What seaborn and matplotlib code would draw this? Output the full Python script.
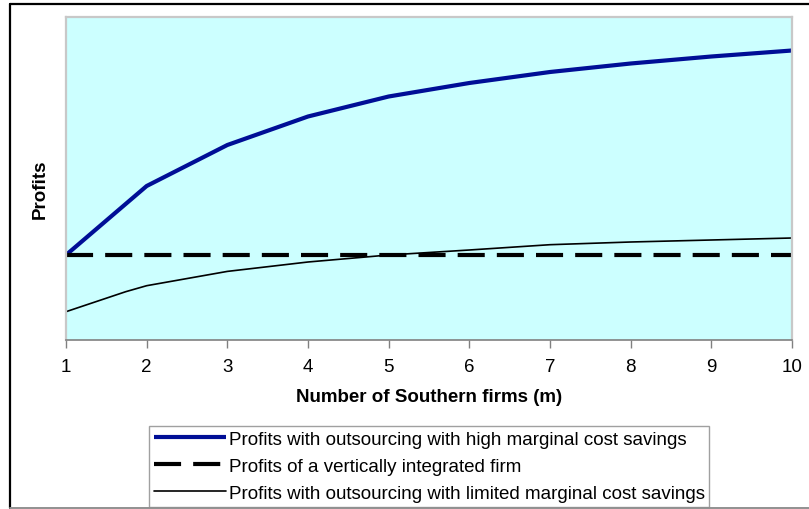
import matplotlib
matplotlib.use("Agg")
import matplotlib.pyplot as plt
from matplotlib.lines import Line2D
import seaborn as sns

# Number of Southern firms
firms = [1, 2, 3, 4, 5, 6, 7, 8, 9, 10]
# the limited-savings curve also has a point between 1 and 2 firms
firms_limited = [1, 1.74, 2, 3, 4, 5, 6, 7, 8, 9, 10]

profits_high = [0.85, 1.54, 1.95, 2.235, 2.435, 2.57, 2.68, 2.765, 2.835, 2.895]
profits_integrated = [0.85, 0.85, 0.85, 0.85, 0.85, 0.85, 0.85, 0.85, 0.85, 0.85]
profits_limited = [0.283, 0.483, 0.543, 0.686, 0.78, 0.85, 0.90, 0.953, 0.98, 1.00, 1.02]

labels = [
    "Profits with outsourcing with high marginal cost savings",
    "Profits of a vertically integrated firm",
    "Profits with outsourcing with limited marginal cost savings",
]

sns.set_style("white")
plt.rcParams["font.family"] = ["Liberation Sans", "DejaVu Sans"]
plt.rcParams["text.color"] = "black"
plt.rcParams["axes.labelcolor"] = "black"
plt.rcParams["xtick.color"] = "black"

FS = 13.5

fig = plt.figure(figsize=(8.09, 5.10), dpi=100)
W, H = 809, 510
ax = fig.add_axes([66 / W, 1 - 341 / H, 726 / W, 323 / H])
ax.set_facecolor("#CCFFFF")

sns.lineplot(x=firms, y=profits_high, ax=ax, color="#000E96", lw=3.0,
             label=labels[0], solid_capstyle="butt")
sns.lineplot(x=firms, y=profits_integrated, ax=ax, color="black", lw=3.0,
             label=labels[1], linestyle=(0, (6.5, 2.9)))
sns.lineplot(x=firms_limited, y=profits_limited, ax=ax, color="black", lw=1.2,
             label=labels[2])

ax.set_xlim(1, 10)
ax.set_ylim(0, 3.23)
ax.set_xticks(firms)
ax.set_xticklabels([str(v) for v in firms])
ax.set_yticks([])

for side in ["top", "left", "right"]:
    ax.spines[side].set_color("#C8C8C8")
    ax.spines[side].set_linewidth(1.6)
ax.spines["bottom"].set_color("#808080")
ax.spines["bottom"].set_linewidth(1.2)
ax.tick_params(axis="x", direction="out", length=6, width=1, color="#808080",
               labelcolor="black", pad=7, labelsize=FS, bottom=True)

ax.set_xlabel("Number of Southern firms (m)", fontsize=FS, fontweight="bold",
              labelpad=9, color="black")
ax.set_ylabel("Profits", fontsize=FS, fontweight="bold", color="black")
ax.yaxis.set_label_coords(-0.0235, 0.47)

leg = ax.legend(loc="upper left", bbox_to_anchor=(149 / W, 1 - 427 / H),
                bbox_transform=fig.transFigure, borderaxespad=0, frameon=True,
                fancybox=False, edgecolor="#A0A0A0", fontsize=FS,
                handlelength=3.85, handletextpad=0.15, labelspacing=0.53,
                borderpad=0.25)
leg.get_frame().set_linewidth(1.0)
leg.get_frame().set_alpha(1)
for t in leg.get_texts():
    t.set_color("black")

# outer chart frame
fig.add_artist(Line2D([10 / W, 1], [1 - 5 / H, 1 - 5 / H],
                      transform=fig.transFigure, color="black", lw=1.6))
fig.add_artist(Line2D([10 / W, 10 / W], [1 - 5 / H, 1.5 / H],
                      transform=fig.transFigure, color="black", lw=1.6))
fig.add_artist(Line2D([10 / W, 1], [1.5 / H, 1.5 / H],
                      transform=fig.transFigure, color="#909090", lw=1.4))

fig.savefig("out.png", dpi=100)
